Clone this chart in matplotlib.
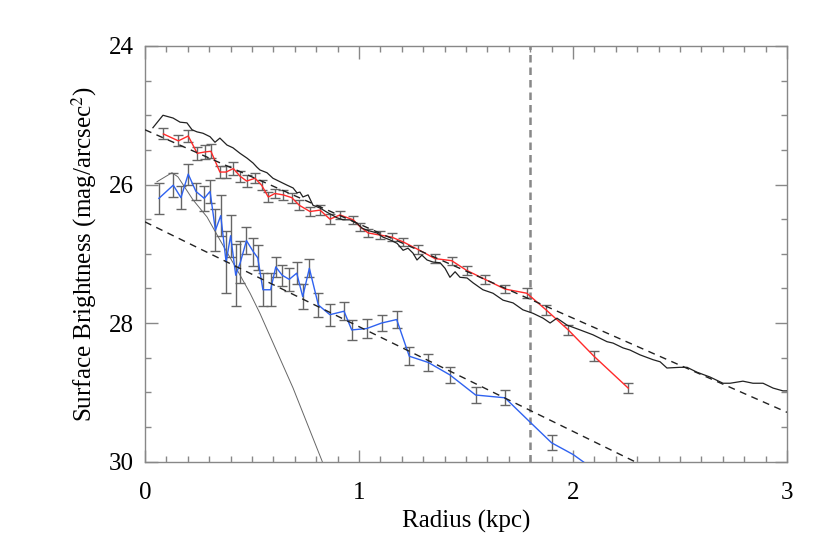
import numpy as np
import matplotlib.pyplot as plt
from matplotlib.ticker import MultipleLocator

plt.rcParams['font.family'] = ['Liberation Serif', 'DejaVu Serif']
plt.rcParams['mathtext.fontset'] = 'stix'

# --- data ---
# observed disk profile (black)
prof_r = [0.037, 0.084, 0.131, 0.164, 0.196, 0.220, 0.243, 0.271, 0.304, 0.327,
          0.350, 0.383, 0.411, 0.444, 0.477, 0.505, 0.523, 0.537, 0.570, 0.598,
          0.631, 0.664, 0.692, 0.710, 0.724, 0.738, 0.762, 0.785, 0.818, 0.850,
          0.874, 0.897, 0.925, 0.958, 0.991, 1.014, 1.037, 1.084, 1.112, 1.145,
          1.178, 1.206, 1.229, 1.252, 1.271, 1.294, 1.318, 1.346, 1.379, 1.402,
          1.425, 1.449, 1.472, 1.505, 1.533, 1.579, 1.626, 1.673, 1.720, 1.766,
          1.813, 1.860, 1.893, 1.925, 1.972, 2.033, 2.093, 2.159, 2.187, 2.234,
          2.266, 2.313, 2.374, 2.407, 2.439, 2.500, 2.533, 2.579, 2.640, 2.701,
          2.734, 2.794, 2.841, 2.888, 2.935, 2.981, 3.000]
prof_mu = [25.18, 25.00, 25.04, 25.10, 25.11, 25.21, 25.24, 25.26, 25.31, 25.39,
           25.33, 25.43, 25.47, 25.55, 25.62, 25.69, 25.75, 25.79, 25.83, 25.91,
           25.96, 26.01, 26.05, 26.12, 26.11, 26.18, 26.15, 26.30, 26.34, 26.40,
           26.44, 26.48, 26.51, 26.51, 26.56, 26.63, 26.66, 26.70, 26.76, 26.80,
           26.85, 26.95, 26.92, 26.99, 27.09, 27.02, 27.09, 27.12, 27.13, 27.21,
           27.34, 27.26, 27.34, 27.35, 27.42, 27.52, 27.57, 27.67, 27.71, 27.81,
           27.86, 27.93, 28.00, 27.93, 28.03, 28.10, 28.17, 28.27, 28.29, 28.36,
           28.39, 28.46, 28.53, 28.56, 28.65, 28.64, 28.64, 28.71, 28.78, 28.87,
           28.87, 28.84, 28.87, 28.87, 28.94, 28.98, 28.98]

# thin model curve (grey)
model_r = [0.056, 0.126, 0.154, 0.224, 0.290, 0.350, 0.430, 0.491, 0.537, 0.692, 0.827, 0.85]
model_mu = [25.96, 25.83, 25.89, 26.22, 26.47, 26.80, 27.23, 27.57, 27.86, 28.94, 29.99, 30.2]

# red series
red_r = [0.086, 0.156, 0.202, 0.244, 0.280, 0.308, 0.350, 0.379, 0.413, 0.444,
         0.475, 0.514, 0.545, 0.576, 0.607, 0.646, 0.686, 0.721, 0.771, 0.818,
         0.864, 0.911, 0.973, 1.005, 1.043, 1.098, 1.153, 1.207, 1.277, 1.355,
         1.433, 1.503, 1.589, 1.682, 1.784, 1.874, 1.978, 2.098, 2.258]
red_mu = [25.27, 25.37, 25.30, 25.55, 25.53, 25.52, 25.82, 25.82, 25.77, 25.88,
          25.95, 25.91, 26.01, 26.18, 26.13, 26.15, 26.19, 26.30, 26.39, 26.37,
          26.50, 26.44, 26.51, 26.61, 26.70, 26.73, 26.76, 26.83, 26.94, 27.07,
          27.10, 27.24, 27.37, 27.51, 27.57, 27.81, 28.10, 28.48, 28.94]
red_err = [0.08, 0.08, 0.09, 0.09, 0.10, 0.10, 0.09, 0.09, 0.09, 0.08,
           0.08, 0.07, 0.07, 0.07, 0.07, 0.07, 0.07, 0.07, 0.07, 0.07,
           0.07, 0.06, 0.06, 0.06, 0.06, 0.06, 0.06, 0.06, 0.06, 0.06,
           0.06, 0.06, 0.06, 0.06, 0.07, 0.07, 0.07, 0.07, 0.07]

# blue series
blue_r = [0.065, 0.132, 0.168, 0.202, 0.238, 0.277, 0.304, 0.329, 0.354, 0.379,
          0.400, 0.424, 0.446, 0.474, 0.506, 0.527, 0.551, 0.587, 0.611, 0.641,
          0.674, 0.709, 0.737, 0.768, 0.810, 0.864, 0.930, 0.966, 1.036, 1.106,
          1.176, 1.235, 1.324, 1.425, 1.545, 1.682, 1.799, 1.900, 2.001, 2.10]
blue_mu = [26.20, 26.01, 26.19, 25.85, 26.10, 26.20, 26.10, 26.66, 26.45, 27.12,
           26.74, 27.31, 27.12, 26.81, 26.97, 27.06, 27.52, 27.52, 27.19, 27.31,
           27.37, 27.28, 27.62, 27.21, 27.74, 27.88, 27.83, 28.10, 28.08, 28.00,
           27.95, 28.48, 28.57, 28.75, 29.04, 29.08, 29.43, 29.73, 29.90, 30.12]
blue_err = [0.22, 0.17, 0.17, 0.15, 0.12, 0.18, 0.17, 0.30, 0.30, 0.45,
            0.30, 0.45, 0.30, 0.20, 0.20, 0.18, 0.24, 0.24, 0.15, 0.15,
            0.17, 0.16, 0.18, 0.13, 0.17, 0.16, 0.13, 0.14, 0.14, 0.12,
            0.12, 0.13, 0.12, 0.12, 0.12, 0.11, np.nan, 0.11, np.nan, np.nan]

# exponential fits (dashed) and break radius
fit1_r, fit1_mu = [0.0, 3.0], [25.21, 29.29]
fit2_r, fit2_mu = [0.0, 2.40], [26.54, 30.17]
r_break = 1.8

fig = plt.figure(figsize=(8.3, 5.54), dpi=100)
ax = fig.add_axes([145/830, 1-461.5/554, 642/830, 415.5/554])

ebkw = dict(ecolor='#666666', elinewidth=1.0, capsize=3.8, capthick=1.0, zorder=2)
ax.errorbar(red_r, red_mu, yerr=red_err, fmt='none', **ebkw)
ax.errorbar(blue_r, blue_mu, yerr=blue_err, fmt='none', **ebkw)
ax.plot(red_r, red_mu, color='#ff2a2a', lw=1.0, zorder=3)
ax.plot(blue_r, blue_mu, color='#2f62f0', lw=1.0, zorder=3)

ax.plot(prof_r, prof_mu, color='#222222', lw=0.9, zorder=4)
ax.plot(model_r, model_mu, color='#666666', lw=0.7, zorder=1)
ax.plot(fit1_r, fit1_mu, color='#222222', lw=1.0, ls=(0, (5, 4)), zorder=4)
ax.plot(fit2_r, fit2_mu, color='#222222', lw=1.0, ls=(0, (5, 4)), zorder=4)
ax.axvline(r_break, color='#888888', lw=1.8, ls=(0, (3, 2)), zorder=1)

ax.set_xlim(0, 3)
ax.set_ylim(30, 24)
ax.xaxis.set_major_locator(MultipleLocator(1))
ax.xaxis.set_minor_locator(MultipleLocator(0.1))
ax.yaxis.set_major_locator(MultipleLocator(2))
ax.yaxis.set_minor_locator(MultipleLocator(0.5))
ax.tick_params(which='both', direction='in', top=True, right=True, color='#888888',
               labelsize=18, pad=8)
ax.tick_params(axis='x', which='both', pad=15)
ax.tick_params(which='major', length=9, width=1)
ax.tick_params(which='minor', length=4.5, width=1)
for s in ax.spines.values():
    s.set_color('#888888')
    s.set_linewidth(1)

ax.set_xlabel('Radius (kpc)', fontsize=18, labelpad=4)
ax.set_ylabel(r'Surface Brightness (mag/arcsec$^2$)', fontsize=18, labelpad=7)

plt.savefig('out.png', dpi=100)
